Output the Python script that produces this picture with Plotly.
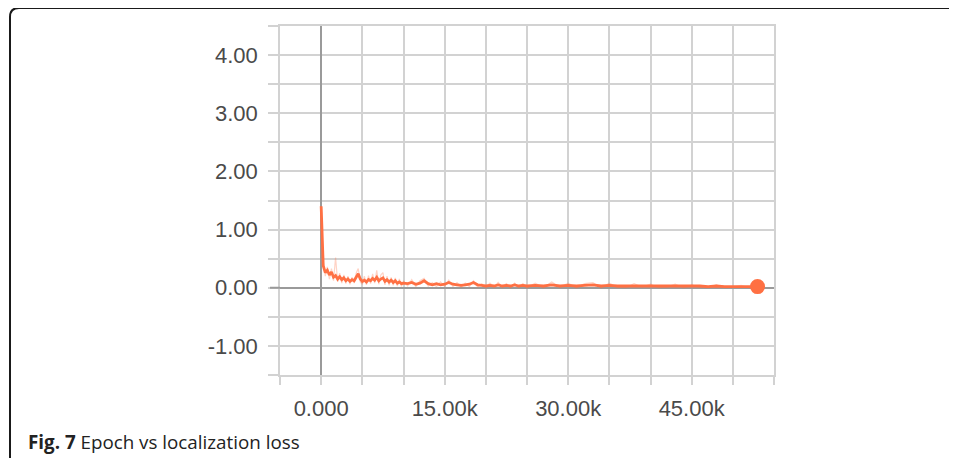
import plotly.graph_objects as go

# ---- data ----
steps_a = [0, 100, 250, 500, 750, 1000, 1250, 1500, 1750, 2000, 2250, 2500, 2750, 3000, 3250, 3500,
           3750, 4000, 4250, 4500, 4750, 5000, 5250, 5500, 5750, 6000, 6250, 6500, 6750, 7000,
           7250, 7500, 7750, 8000, 8250, 8500, 8750, 9000, 9250, 9500, 9750, 10000]
loss_a = [1.40, 0.95, 0.38, 0.26, 0.30, 0.22, 0.27, 0.18, 0.21, 0.15, 0.19, 0.14, 0.17, 0.12, 0.15, 0.11,
          0.14, 0.12, 0.18, 0.24, 0.15, 0.11, 0.13, 0.10, 0.14, 0.12, 0.16, 0.13, 0.18, 0.12,
          0.15, 0.17, 0.11, 0.14, 0.10, 0.13, 0.09, 0.12, 0.08, 0.10, 0.07, 0.08]
raw_a = [1.40, 1.05, 0.45, 0.20, 0.36, 0.15, 0.33, 0.12, 0.52, 0.10, 0.25, 0.08, 0.22, 0.07, 0.20, 0.06,
         0.18, 0.08, 0.25, 0.33, 0.10, 0.06, 0.20, 0.05, 0.21, 0.07, 0.24, 0.08, 0.30, 0.06,
         0.22, 0.26, 0.05, 0.20, 0.04, 0.18, 0.04, 0.17, 0.03, 0.15, 0.02, 0.12]

steps_b = [10500, 11000, 11500, 12000, 12500, 13000, 13500, 14000, 14500, 15000,
           15500, 16000, 16500, 17000, 17500, 18000, 18500, 19000, 19500, 20000,
           20500, 21000, 21500, 22000, 22500, 23000, 23500, 24000, 24500, 25000]
loss_b = [0.07, 0.09, 0.06, 0.08, 0.12, 0.07, 0.05, 0.07, 0.05, 0.06,
          0.09, 0.06, 0.05, 0.04, 0.05, 0.06, 0.09, 0.05, 0.04, 0.03,
          0.04, 0.03, 0.05, 0.03, 0.04, 0.03, 0.05, 0.03, 0.04, 0.03]
raw_b = [0.03, 0.14, 0.02, 0.12, 0.16, 0.03, 0.09, 0.02, 0.10, 0.02,
         0.13, 0.02, 0.09, 0.01, 0.08, 0.02, 0.12, 0.01, 0.07, 0.01,
         0.08, 0.01, 0.09, 0.01, 0.07, 0.00, 0.08, 0.01, 0.07, 0.00]

steps_c = [26000, 27000, 28000, 29000, 30000, 31000, 32000, 33000, 34000, 35000,
           36000, 37000, 38000, 39000, 40000, 41000, 42000, 43000, 44000, 45000,
           46000, 47000, 48000, 49000, 50000, 51000, 52000, 53000]
loss_c = [0.04, 0.03, 0.05, 0.03, 0.04, 0.03, 0.04, 0.05, 0.03, 0.04,
          0.03, 0.03, 0.04, 0.03, 0.04, 0.03, 0.03, 0.04, 0.03, 0.03,
          0.03, 0.02, 0.03, 0.02, 0.02, 0.03, 0.02, 0.02]
raw_c = [0.08, 0.00, 0.10, 0.01, 0.08, 0.00, 0.07, 0.09, 0.00, 0.08,
         0.01, 0.00, 0.07, 0.01, 0.06, 0.00, 0.01, 0.06, 0.00, 0.05,
         0.01, 0.00, 0.05, 0.00, 0.01, 0.04, 0.00, 0.02]

x_tickvals = [-5000, 0, 5000, 10000, 15000, 20000, 25000, 30000, 35000, 40000, 45000, 50000, 55000]
x_ticktext = ["", "0.000", "", "", "15.00k", "", "", "30.00k", "", "", "45.00k", "", ""]
y_tickvals = [-1.5, -1.0, -0.5, 0.0, 0.5, 1.0, 1.5, 2.0, 2.5, 3.0, 3.5, 4.0, 4.5]
y_ticktext = ["", "-1.00", "", "0.00", "", "1.00", "", "2.00", "", "3.00", "", "4.00", ""]

caption = "<b>Fig. 7</b> Epoch vs localization loss"

steps = steps_a + steps_b + steps_c
loss = loss_a + loss_b + loss_c
raw = raw_a + raw_b + raw_c

ORANGE = "#ff7043"
GRID = "#d2d2d2"
ZERO = "#9a9a9a"
TICKFONT = dict(family="Liberation Sans, Arial, sans-serif", size=22, color="#4a4a4a")

fig = go.Figure()
fig.add_trace(go.Scatter(x=steps, y=raw, mode="lines",
                         line=dict(color=ORANGE, width=1.2), opacity=0.3,
                         hoverinfo="skip", showlegend=False))
fig.add_trace(go.Scatter(x=steps, y=loss, mode="lines",
                         line=dict(color=ORANGE, width=2.8), showlegend=False))
fig.add_trace(go.Scatter(x=[steps[-1]], y=[loss[-1]], mode="markers",
                         marker=dict(color=ORANGE, size=15), showlegend=False))

fig.update_xaxes(range=[-5000, 55000], tickmode="array", tickvals=x_tickvals, ticktext=x_ticktext,
                 showgrid=True, gridcolor=GRID, gridwidth=1.5,
                 zeroline=True, zerolinecolor=ZERO, zerolinewidth=2,
                 showline=True, linecolor=GRID, linewidth=1.5, mirror=True,
                 ticks="outside", ticklen=8, tickcolor=GRID, tickwidth=1.5,
                 tickfont=TICKFONT, ticklabelstandoff=5, fixedrange=True)
fig.update_yaxes(range=[-1.5, 4.5], tickmode="array", tickvals=y_tickvals, ticktext=y_ticktext,
                 showgrid=True, gridcolor=GRID, gridwidth=1.5,
                 zeroline=True, zerolinecolor=ZERO, zerolinewidth=2,
                 showline=True, linecolor=GRID, linewidth=1.5, mirror=True,
                 ticks="outside", ticklen=10, tickcolor=GRID, tickwidth=1.5,
                 tickfont=TICKFONT, ticklabelstandoff=6, fixedrange=True)

# The page body has an 8px margin, so the figure starts at (8, 8) in the window.
OFF = 8
FW, FH = 957 - OFF, 458 - OFF
# plot area in window pixels: x 280..774, y 26..375
L, R, T, B = 280 - OFF, 774 - OFF, 26 - OFF, 375 - OFF
W, H = R - L, B - T


def px(x):
    return (x - OFF - L) / W


def py(y):
    return (B - (y - OFF)) / H


r = 9
path = (f"M {px(10)},{py(470)} L {px(10)},{py(8 + r)} "
        f"Q {px(10)},{py(8)} {px(10 + r)},{py(8)} L {px(970)},{py(8)}")
fig.add_shape(type="path", xref="paper", yref="paper", path=path,
              line=dict(color="#1a1a1a", width=2))

# zero line continues over the y tick at 0
fig.add_shape(type="line", xref="paper", yref="y", x0=px(270), x1=0, y0=0, y1=0,
              line=dict(color=ZERO, width=2))

fig.add_annotation(text=caption, xref="paper", yref="paper", x=px(26), y=py(442),
                   xanchor="left", yanchor="middle", showarrow=False,
                   font=dict(family="Open Sans, Noto Sans, sans-serif", size=18.8, color="#222222"))

fig.update_layout(width=FW, height=FH, autosize=False,
                  margin=dict(l=L, r=FW - R, t=T, b=FH - B),
                  paper_bgcolor="white", plot_bgcolor="white", showlegend=False)

fig.write_html("out.html", config={"displayModeBar": False})
